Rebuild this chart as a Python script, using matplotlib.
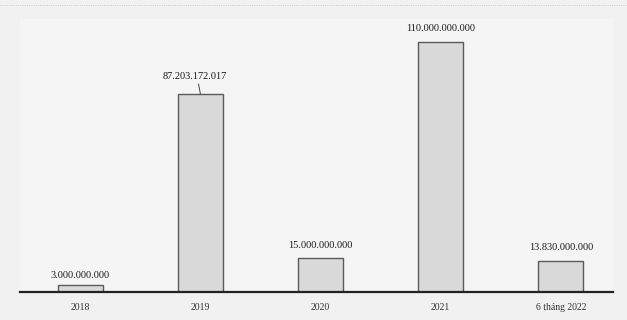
import matplotlib
matplotlib.use("Agg")
import matplotlib.pyplot as plt

categories = ["2018", "2019", "2020", "2021", "6 tháng 2022"]
values = [3_000_000_000, 87_203_172_017, 15_000_000_000, 110_000_000_000, 13_830_000_000]
value_labels = ["3.000.000.000", "87.203.172.017", "15.000.000.000", "110.000.000.000", "13.830.000.000"]

plt.rcParams['font.family'] = ['Liberation Serif', 'DejaVu Serif']

fig = plt.figure(figsize=(6.27, 3.2), dpi=100, facecolor='#f1f1f1')
ax = fig.add_axes([0.032, 0.0875, 0.945, 0.853])
ax.set_facecolor('#f5f5f5')

x = list(range(len(categories)))
bars = ax.bar(x, values, width=0.375, color='#d9d9d9', edgecolor='#5a5a5a', linewidth=1.0, zorder=2)

offsets = [4, 9, 6, 6, 6]
for i, (v, lab) in enumerate(zip(values, value_labels)):
    if i == 1:
        ax.annotate(lab, xy=(i, v), xytext=(-4, offsets[i]), textcoords='offset points',
                    ha='center', va='bottom', fontsize=7.5, color='#1a1a1a',
                    arrowprops=dict(arrowstyle='-', color='#444444', lw=0.7,
                                    shrinkA=0, shrinkB=0,
                                    relpos=(0.55, 0.0)))
    else:
        ax.annotate(lab, xy=(i, v), xytext=(0, offsets[i]), textcoords='offset points',
                    ha='center', va='bottom', fontsize=7.5, color='#1a1a1a')

ax.set_xlim(-0.5, 4.43)
ax.set_ylim(0, 120e9)
ax.set_xticks(x)
ax.set_xticklabels(categories, fontsize=7, color='#333333')
ax.tick_params(axis='x', length=0, pad=8)
ax.set_yticks([])
for s in ['top', 'right', 'left']:
    ax.spines[s].set_visible(False)
ax.spines['bottom'].set_color('#222222')
ax.spines['bottom'].set_linewidth(1.6)

fig.lines.append(plt.Line2D([0.0, 1.0], [0.985, 0.985], transform=fig.transFigure,
                            color='#bbbbbb', lw=0.6, linestyle=':'))

fig.savefig('out.png', dpi=100, facecolor=fig.get_facecolor())
